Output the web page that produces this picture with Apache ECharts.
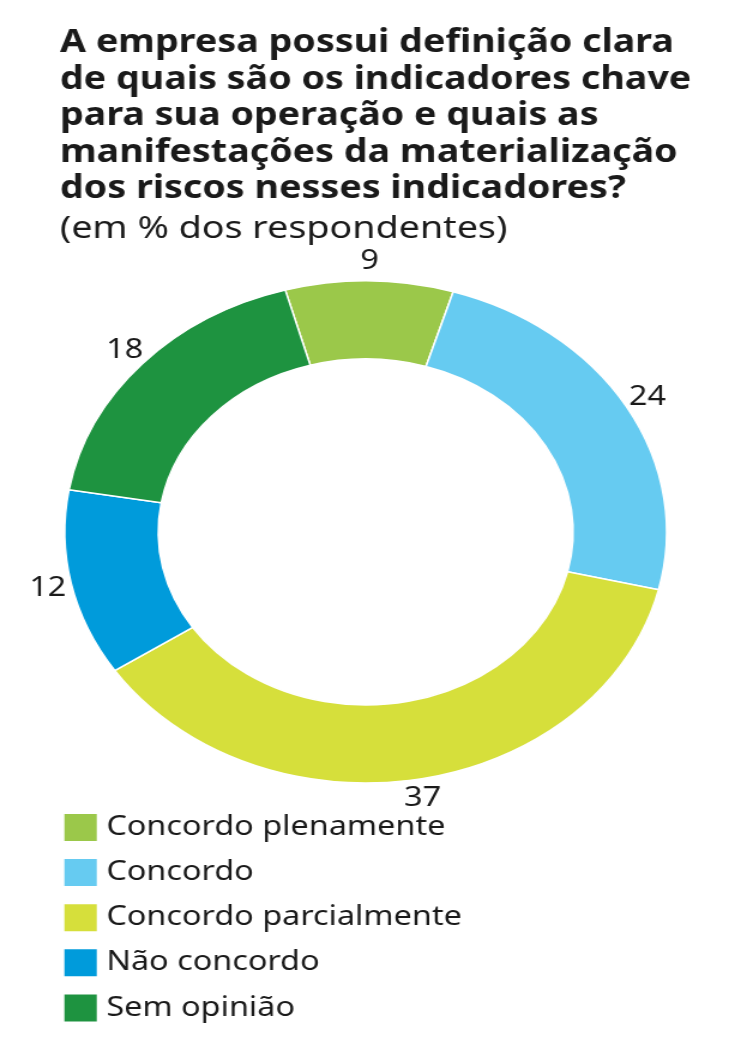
<!DOCTYPE html>
<html><head><meta charset="utf-8">
<script src="https://cdn.jsdelivr.net/npm/echarts@6/dist/echarts.min.js"></script>
<style>
html,body{margin:0;padding:0;background:#fff;overflow:hidden}
#wrap{width:729px;height:1049px;overflow:hidden;position:relative}
#c{width:608px;height:1049px;transform:scaleX(1.199);transform-origin:0 0}
</style>
</head><body><div id="wrap"><div id="c"></div></div>
<script>
const titleLines = [
  'A empresa possui definição clara',
  'de quais são os indicadores chave',
  'para sua operação e quais as',
  'manifestações da materialização',
  'dos riscos nesses indicadores?'
];
const subtitle = '(em % dos respondentes)';
const categories = ['Concordo plenamente', 'Concordo', 'Concordo parcialmente', 'Não concordo', 'Sem opinião'];
const values = [9, 24, 37, 12, 18];
const colors = ['#9BC84A', '#66CBF1', '#D6DF3B', '#009BDB', '#1E9340'];

const FONT = '"Noto Sans", sans-serif';
const pieData = categories.map((n, i) => ({name: n, value: values[i]}));
const chart = echarts.init(document.getElementById('c'), null, {renderer: 'canvas'});
chart.setOption({
  animation: false,
  backgroundColor: '#fff',
  color: colors,
  title: {
    left: 50, top: 25,
    padding: 0,
    text: titleLines.join('\n'),
    subtext: subtitle,
    itemGap: 3.5,
    textStyle: {fontFamily: FONT, fontSize: 31.4, fontWeight: 'bold', color: '#1a1a1a', lineHeight: 36.5},
    subtextStyle: {fontFamily: FONT, fontSize: 31.4, fontWeight: 'normal', color: '#1a1a1a', lineHeight: 36.5}
  },
  legend: {
    orient: 'vertical',
    left: 51.7, top: 812,
    padding: 0,
    itemWidth: 29, itemHeight: 29,
    itemGap: 14.1,
    icon: 'rect',
    data: categories,
    textStyle: {fontFamily: FONT, fontSize: 27, color: '#1a1a1a', lineHeight: 27, padding: [0, 0, 0, 2]}
  },
  series: [{
    type: 'pie',
    center: [305, 532],
    radius: [173, 251],
    startAngle: 105.5,
    clockwise: true,
    avoidLabelOverlap: false,
    itemStyle: {borderColor: '#fff', borderWidth: 1.5},
    label: {show: false},
    labelLine: {show: false},
    emphasis: {disabled: true},
    data: pieData
  }, {
    type: 'pie',
    center: [305, 532],
    radius: [258, 278],
    startAngle: 105.5,
    clockwise: true,
    silent: true,
    avoidLabelOverlap: false,
    legendHoverLink: false,
    itemStyle: {color: 'rgba(0,0,0,0)', borderWidth: 0},
    label: {
      show: true, position: 'inside',
      formatter: '{c}',
      fontFamily: FONT, fontSize: 27, color: '#1a1a1a'
    },
    labelLine: {show: false},
    emphasis: {disabled: true},
    data: pieData
  }]
});
</script>
</body></html>
